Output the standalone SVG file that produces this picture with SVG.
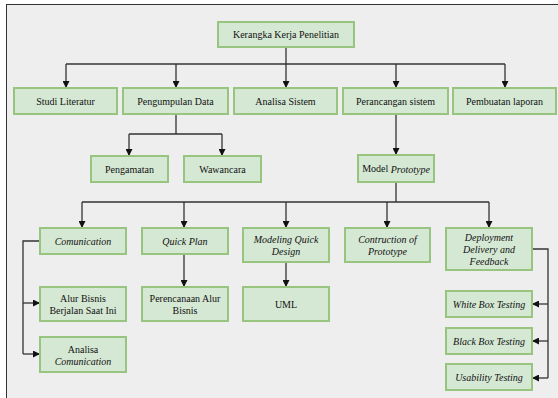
<svg xmlns="http://www.w3.org/2000/svg" width="558" height="398" viewBox="0 0 558 398">
<style>
.box{fill:#d5e8d4;stroke:#97c47e;stroke-width:2}
.t text{font-size:10px;fill:#111;text-anchor:middle;dominant-baseline:central}
.i{font-style:italic}
.c{fill:none;stroke:#333;stroke-width:1.3}
.a{marker-end:url(#ah)}
</style>
<defs>
<marker id="ah" viewBox="0 0 8 8" refX="8" refY="4" markerUnits="userSpaceOnUse" markerWidth="7" markerHeight="7" orient="auto">
<path d="M0,0 L8,4 L0,8 z" fill="#111"/>
</marker>
</defs>
<rect x="0" y="0" width="558" height="398" fill="#fff"/>
<rect x="6.5" y="4.5" width="560" height="400" fill="#eeeeee" stroke="#333" stroke-width="1"/>
<g id="connectors">
<path class="c a" d="M286,47 V88"/>
<path class="c" d="M66,64 H505"/>
<path class="c a" d="M66,64 V88"/>
<path class="c a" d="M176,64 V88"/>
<path class="c a" d="M396,64 V88"/>
<path class="c a" d="M505,64 V88"/>
<path class="c" d="M176,114 V134 M129,134 H222"/>
<path class="c a" d="M129,134 V156"/>
<path class="c a" d="M222,134 V156"/>
<path class="c a" d="M396,114 V155"/>
<path class="c" d="M396,182 V202 M82,202 H489"/>
<path class="c a" d="M82,202 V228"/>
<path class="c a" d="M184,202 V228"/>
<path class="c a" d="M286,202 V228"/>
<path class="c a" d="M387,202 V228"/>
<path class="c a" d="M489,202 V228"/>
<path class="c" d="M40,241 H23 V354"/>
<path class="c a" d="M23,303 H40"/>
<path class="c a" d="M23,354 H40"/>
<path class="c a" d="M184,254 V287"/>
<path class="c a" d="M286,262 V287"/>
<path class="c" d="M532,249 H548 V378"/>
<path class="c a" d="M548,304 H532"/>
<path class="c a" d="M548,341 H532"/>
<path class="c a" d="M548,378 H532"/>
</g>
<g class="t" font-family="'Liberation Serif', 'DejaVu Serif', serif">
<g id="n-kerangka"><rect class="box" x="218" y="22" width="136" height="25"/><text x="286" y="34.5">Kerangka Kerja Penelitian</text></g>
<g id="n-studi"><rect class="box" x="14" y="88" width="103" height="26"/><text x="65.5" y="101">Studi Literatur</text></g>
<g id="n-pengumpulan"><rect class="box" x="123" y="88" width="105" height="26"/><text x="175.5" y="101">Pengumpulan Data</text></g>
<g id="n-analisa"><rect class="box" x="234" y="88" width="103" height="26"/><text x="285.5" y="101">Analisa Sistem</text></g>
<g id="n-perancangan"><rect class="box" x="343" y="88" width="105" height="26"/><text x="395.5" y="101">Perancangan sistem</text></g>
<g id="n-pembuatan"><rect class="box" x="453" y="88" width="103" height="26"/><text x="504.5" y="101">Pembuatan laporan</text></g>
<g id="n-pengamatan"><rect class="box" x="91" y="156" width="77" height="26"/><text x="129.5" y="169">Pengamatan</text></g>
<g id="n-wawancara"><rect class="box" x="184" y="156" width="77" height="26"/><text x="222.5" y="169">Wawancara</text></g>
<g id="n-model"><rect class="box" x="358" y="155" width="76" height="27"/><text x="396" y="168.5">Model <tspan class="i">Prototype</tspan></text></g>
<g id="n-comunication"><rect class="box" x="40" y="228" width="86" height="26"/><text class="i" x="83" y="241">Comunication</text></g>
<g id="n-quickplan"><rect class="box" x="142" y="228" width="86" height="26"/><text class="i" x="185" y="241">Quick Plan</text></g>
<g id="n-modeling"><rect class="box" x="243" y="228" width="86" height="34"/><text class="i" x="286" y="239.5">Modeling Quick</text><text class="i" x="286" y="251.5">Design</text></g>
<g id="n-contruction"><rect class="box" x="345" y="228" width="85" height="34"/><text class="i" x="387.5" y="239.5">Contruction of</text><text class="i" x="387.5" y="251.5">Prototype</text></g>
<g id="n-deployment"><rect class="box" x="446" y="228" width="86" height="42"/><text class="i" x="489" y="237.5">Deployment</text><text class="i" x="489" y="249.5">Delivery and</text><text class="i" x="489" y="261.5">Feedback</text></g>
<g id="n-alur"><rect class="box" x="40" y="287" width="86" height="34"/><text x="83" y="298.5">Alur Bisnis</text><text x="83" y="310.5">Berjalan Saat Ini</text></g>
<g id="n-analisacom"><rect class="box" x="40" y="337" width="86" height="35"/><text x="83" y="349">Analisa</text><text class="i" x="83" y="361">Comunication</text></g>
<g id="n-perencanaan"><rect class="box" x="142" y="287" width="86" height="34"/><text x="185" y="298.5">Perencanaan Alur</text><text x="185" y="310.5">Bisnis</text></g>
<g id="n-uml"><rect class="box" x="243" y="287" width="86" height="34"/><text x="286" y="304">UML</text></g>
<g id="n-whitebox"><rect class="box" x="446" y="291" width="86" height="26"/><text class="i" x="489" y="304">White Box Testing</text></g>
<g id="n-blackbox"><rect class="box" x="446" y="328" width="86" height="26"/><text class="i" x="489" y="341">Black Box Testing</text></g>
<g id="n-usability"><rect class="box" x="446" y="364" width="86" height="26"/><text class="i" x="489" y="377">Usability Testing</text></g>
</g>
</svg>
